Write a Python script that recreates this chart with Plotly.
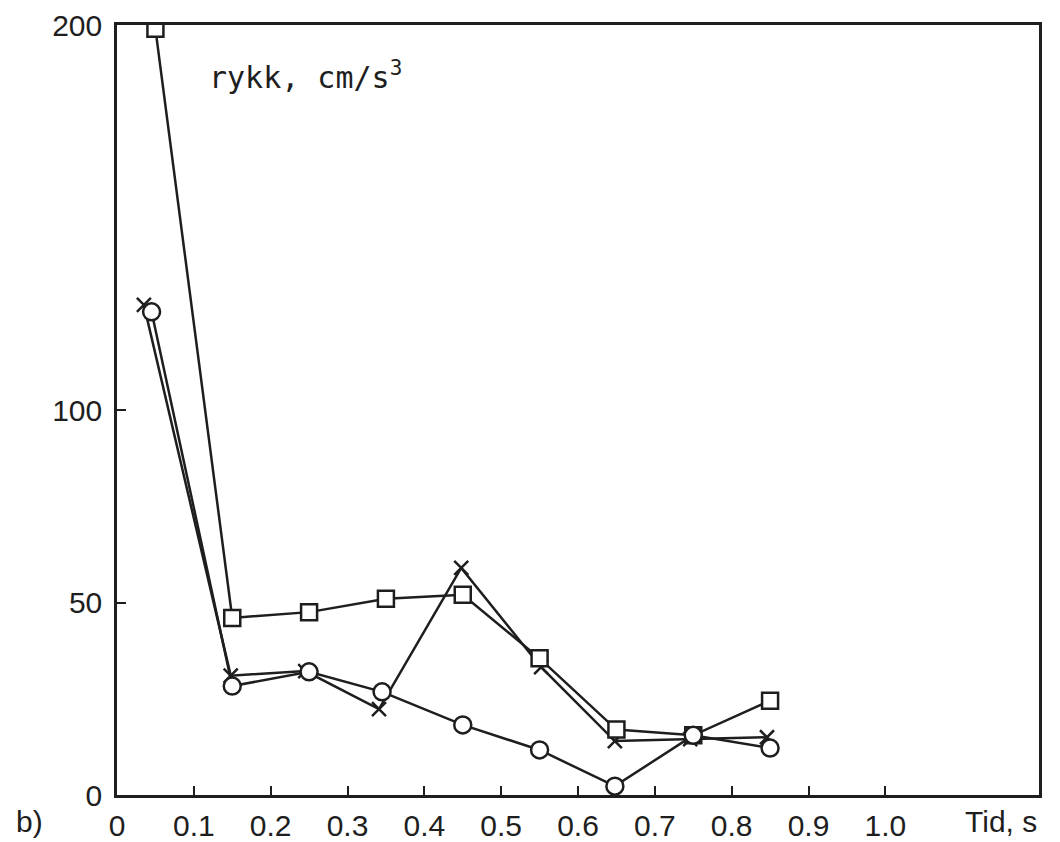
import plotly.graph_objects as go

# Time (s) and jerk values (cm/s^3)
t_square = [0.05, 0.15, 0.25, 0.35, 0.45, 0.55, 0.65, 0.75, 0.85]
y_square = [199, 46, 47.5, 51, 52, 35.5, 17, 15.5, 24.5]

t_circle = [0.045, 0.15, 0.25, 0.345, 0.45, 0.55, 0.648, 0.75, 0.85]
y_circle = [125.5, 28.3, 32, 26.8, 18.2, 11.7, 2.3, 15.5, 12.2]

t_cross = [0.035, 0.148, 0.245, 0.341, 0.448, 0.552, 0.648, 0.746, 0.846]
y_cross = [127.3, 31, 32.2, 22.3, 59, 33.2, 14, 14.5, 15]

x_tickvals = [0, 0.1, 0.2, 0.3, 0.4, 0.5, 0.6, 0.7, 0.8, 0.9, 1.0]
x_ticktext = ["0", "0.1", "0.2", "0.3", "0.4", "0.5", "0.6", "0.7", "0.8", "0.9", "1.0"]
y_tickvals = [0, 50, 100, 200]
y_ticktext = ["0", "50", "100", "200"]

INK = "#1e1e1e"
TICKFONT = dict(family="Liberation Sans Narrow, Arial Narrow, Liberation Sans, Arial", size=30, color=INK)

fig = go.Figure()

fig.add_trace(go.Scatter(
    x=t_cross, y=y_cross, mode="lines+markers",
    line=dict(color=INK, width=2.5),
    marker=dict(symbol="x-thin", size=14, line=dict(color=INK, width=2.5)),
    showlegend=False, name="x"))

fig.add_trace(go.Scatter(
    x=t_square, y=y_square, mode="lines+markers",
    line=dict(color=INK, width=2.5),
    marker=dict(symbol="square", size=16, color="white", line=dict(color=INK, width=2.5)),
    showlegend=False, name="square"))

fig.add_trace(go.Scatter(
    x=t_circle, y=y_circle, mode="lines+markers",
    line=dict(color=INK, width=2.5),
    marker=dict(symbol="circle", size=17, color="white", line=dict(color=INK, width=2.5)),
    showlegend=False, name="circle"))

fig.update_layout(
    width=1060, height=842,
    margin=dict(l=117, r=21, t=25, b=47),
    paper_bgcolor="white", plot_bgcolor="white",
    xaxis=dict(
        range=[0, 1.2], tickvals=x_tickvals, ticktext=x_ticktext,
        ticks="inside", ticklen=9, tickwidth=2, tickcolor=INK,
        showline=True, linecolor=INK, linewidth=2.5, mirror=True,
        showgrid=False, zeroline=False, tickfont=TICKFONT, ticklabelstandoff=2,
        automargin=False,
    ),
    yaxis=dict(
        range=[0, 200], tickvals=y_tickvals, ticktext=y_ticktext,
        ticks="inside", ticklen=9, tickwidth=2, tickcolor=INK,
        showline=True, linecolor=INK, linewidth=2.5, mirror=True,
        showgrid=False, zeroline=False, tickfont=TICKFONT, ticklabelstandoff=6,
        automargin=False,
    ),
    annotations=[
        dict(text="rykk, cm/s<sup>3</sup>", x=0.098, y=0.935, xref="paper", yref="paper",
             xanchor="left", yanchor="middle", showarrow=False,
             font=dict(family="DejaVu Sans Mono", size=30, color=INK)),
        dict(text="Tid, s", x=1.15, y=-0.035, xref="x", yref="paper",
             xanchor="center", yanchor="middle", showarrow=False,
             font=TICKFONT),
        dict(text="b)", x=-0.095, y=-0.035, xref="paper", yref="paper",
             xanchor="center", yanchor="middle", showarrow=False,
             font=TICKFONT),
    ],
)

fig.write_html("out.html")
